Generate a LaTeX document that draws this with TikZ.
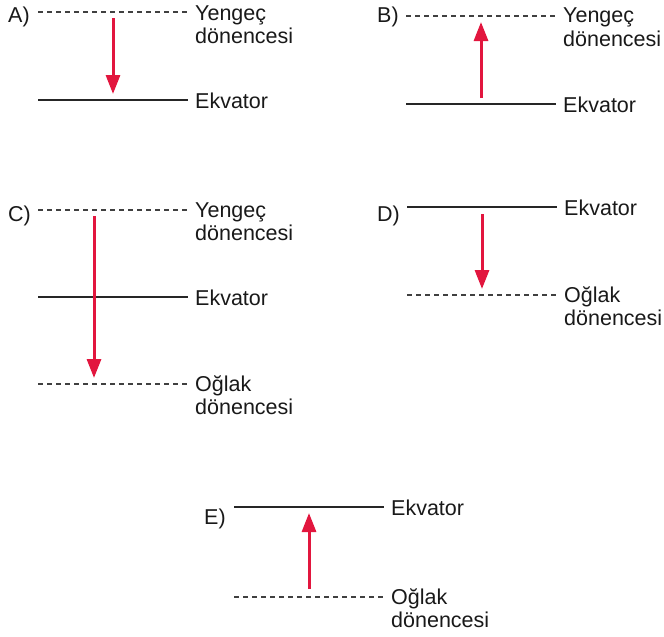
\documentclass[tikz,border=0pt]{standalone}
\usepackage{fontspec}
\setmainfont{Liberation Sans}
\usetikzlibrary{arrows.meta}
\definecolor{okrenk}{RGB}{226,22,62}
\begin{document}
\begin{tikzpicture}[x=1pt,y=-1pt,
    cizgi/.style={line width=1.2pt,black!85},
    kesik/.style={line width=1.1pt,black!75,dash pattern=on 5pt off 4pt},
    ok/.style={line width=3pt,okrenk,-{Triangle[length=19pt,width=14pt]}},
    yazi/.style={anchor=base west,inner sep=0pt,text=black!90,font=\fontsize{21.5}{23}\selectfont}]
\useasboundingbox (0,0) rectangle (664,637);
% A
\node[yazi] (harfA) at (8,23) {A)};
\draw[kesik] (38,12) -- (188,12);
\node[yazi] (yenA) at (195,20) {Yengeç};
\node[yazi] (donA) at (195,43) {dönencesi};
\draw[cizgi] (38,100) -- (188,100);
\node[yazi] (ekvA) at (195,108.5) {Ekvator};
\coordinate (okA1) at (113,18);
\coordinate (okA2) at (113,94);
\draw[ok] (okA1) -- (okA2);
% B
\node[yazi] (harfB) at (377,22) {B)};
\draw[kesik] (406,16) -- (556,16);
\node[yazi] (yenB) at (563,23) {Yengeç};
\node[yazi] (donB) at (563,46) {dönencesi};
\draw[cizgi] (406,104) -- (556,104);
\node[yazi] (ekvB) at (563,112.5) {Ekvator};
\coordinate (okB1) at (481,98);
\coordinate (okB2) at (481,22);
\draw[ok] (okB1) -- (okB2);
% C
\node[yazi] (harfC) at (8,221) {C)};
\draw[kesik] (38,210) -- (188,210);
\node[yazi] (yenC) at (195,217.5) {Yengeç};
\node[yazi] (donC) at (195,240.5) {dönencesi};
\draw[cizgi] (38,297) -- (188,297);
\node[yazi] (ekvC) at (195,305.5) {Ekvator};
\draw[kesik] (38,384) -- (188,384);
\node[yazi] (ogC) at (195,391.5) {Oğlak};
\node[yazi] (donC2) at (195,414.5) {dönencesi};
\coordinate (okC1) at (94,216);
\coordinate (okC2) at (94,378);
\draw[ok] (okC1) -- (okC2);
% D
\node[yazi] (harfD) at (377,221) {D)};
\draw[cizgi] (407,207) -- (557,207);
\node[yazi] (ekvD) at (564,215.5) {Ekvator};
\draw[kesik] (407,295) -- (557,295);
\node[yazi] (ogD) at (564,302.5) {Oğlak};
\node[yazi] (donD) at (564,325.5) {dönencesi};
\coordinate (okD1) at (482,214);
\coordinate (okD2) at (482,289);
\draw[ok] (okD1) -- (okD2);
% E
\node[yazi] (harfE) at (204,524) {E)};
\draw[cizgi] (234,507) -- (384,507);
\node[yazi] (ekvE) at (391,515.5) {Ekvator};
\draw[kesik] (234,597) -- (384,597);
\node[yazi] (ogE) at (391,604.5) {Oğlak};
\node[yazi] (donE) at (391,627.5) {dönencesi};
\coordinate (okE1) at (309,589);
\coordinate (okE2) at (309,513);
\draw[ok] (okE1) -- (okE2);
\end{tikzpicture}
\end{document}
